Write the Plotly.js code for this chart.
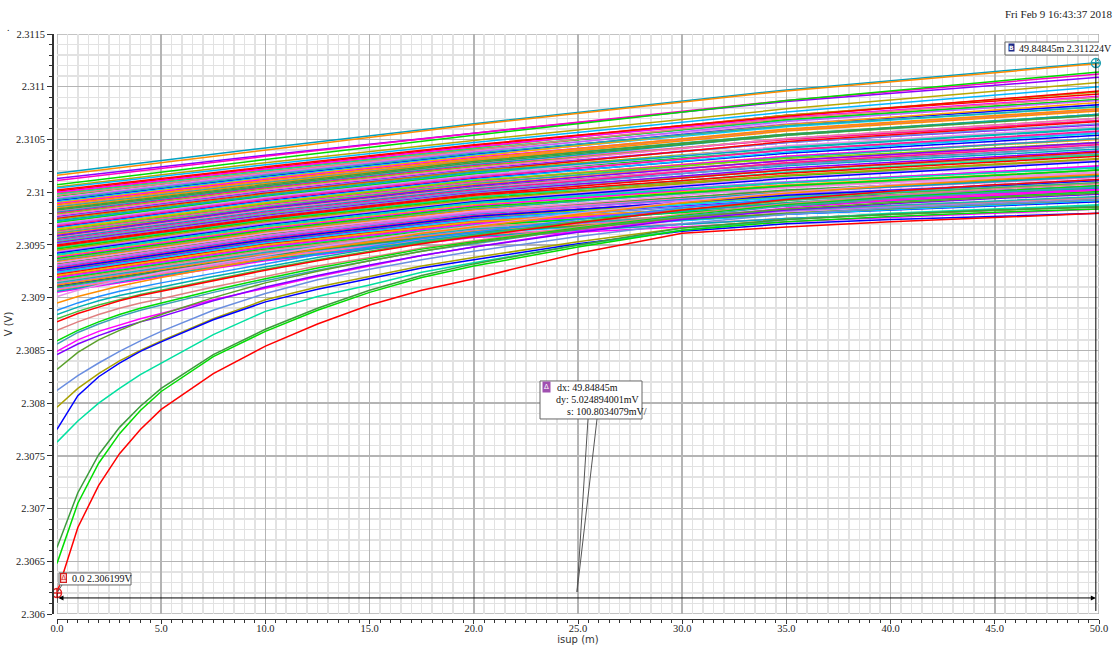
<!DOCTYPE html>
<html>
<head>
<meta charset="utf-8">
<script src="https://cdn.plot.ly/plotly-3.0.1.min.js"></script>
<style>html,body{margin:0;padding:0;background:#fff;}#chart{width:1113px;height:645px;}</style>
</head>
<body>
<div id="chart"></div>
<script>
// ---- data (V vs isup in mA, x-axis labelled "isup (m)") ----
const xBand = [0, 10, 20, 35, 50];
const topCurves = [
  [2.31018,2.31042,2.31065,2.31097,2.31123],
  [2.31016,2.31040,2.31064,2.31096,2.31122],
  [2.31013,2.31035,2.31056,2.31086,2.31109],
  [2.31011,2.31034,2.31056,2.31087,2.31112],
  [2.31007,2.31031,2.31054,2.31087,2.31114],
  [2.31005,2.31028,2.31049,2.31079,2.31104],
  [2.31004,2.31026,2.31047,2.31076,2.31100],
  [2.31002,2.31024,2.31045,2.31072,2.31096]
];
const topColors = ['#00a0c0','#ff8c00','#8c00ff','#ff00c8','#00dd00','#b8a800','#00b8ff','#ff0000'];
const bandCurves = [
  [2.31001,2.31023,2.31044,2.31073,2.31093],
  [2.30999,2.31021,2.31042,2.31073,2.31095],
  [2.30998,2.31020,2.31041,2.31068,2.31088],
  [2.30996,2.31018,2.31040,2.31069,2.31088],
  [2.30995,2.31018,2.31039,2.31065,2.31083],
  [2.30994,2.31017,2.31038,2.31067,2.31087],
  [2.30992,2.31015,2.31036,2.31064,2.31083],
  [2.30991,2.31014,2.31035,2.31062,2.31081],
  [2.30990,2.31013,2.31034,2.31064,2.31085],
  [2.30989,2.31012,2.31033,2.31059,2.31078],
  [2.30987,2.31010,2.31031,2.31059,2.31078],
  [2.30986,2.31009,2.31030,2.31055,2.31073],
  [2.30985,2.31008,2.31030,2.31058,2.31077],
  [2.30984,2.31007,2.31029,2.31055,2.31074],
  [2.30982,2.31006,2.31027,2.31050,2.31068],
  [2.30981,2.31005,2.31026,2.31054,2.31074],
  [2.30980,2.31004,2.31025,2.31050,2.31068],
  [2.30979,2.31003,2.31024,2.31051,2.31070],
  [2.30977,2.31001,2.31022,2.31047,2.31064],
  [2.30976,2.31000,2.31021,2.31047,2.31065],
  [2.30975,2.30999,2.31020,2.31048,2.31067],
  [2.30974,2.30998,2.31020,2.31043,2.31061],
  [2.30972,2.30996,2.31018,2.31043,2.31061],
  [2.30971,2.30996,2.31017,2.31040,2.31056],
  [2.30970,2.30995,2.31016,2.31044,2.31062],
  [2.30969,2.30994,2.31015,2.31040,2.31057],
  [2.30967,2.30992,2.31013,2.31037,2.31054],
  [2.30966,2.30991,2.31012,2.31038,2.31056],
  [2.30965,2.30990,2.31011,2.31034,2.31050],
  [2.30963,2.30988,2.31010,2.31034,2.31051],
  [2.30962,2.30987,2.31009,2.31030,2.31046],
  [2.30961,2.30986,2.31008,2.31033,2.31051],
  [2.30960,2.30985,2.31007,2.31030,2.31047],
  [2.30958,2.30984,2.31005,2.31027,2.31043],
  [2.30957,2.30983,2.31004,2.31028,2.31046],
  [2.30956,2.30982,2.31003,2.31025,2.31041],
  [2.30955,2.30981,2.31002,2.31028,2.31045],
  [2.30953,2.30979,2.31001,2.31021,2.31036],
  [2.30952,2.30978,2.31000,2.31023,2.31039],
  [2.30951,2.30977,2.30999,2.31021,2.31037],
  [2.30950,2.30976,2.30998,2.31021,2.31038],
  [2.30948,2.30974,2.30996,2.31016,2.31031],
  [2.30947,2.30974,2.30995,2.31019,2.31035],
  [2.30946,2.30973,2.30994,2.31015,2.31030],
  [2.30944,2.30971,2.30992,2.31014,2.31030],
  [2.30943,2.30970,2.30991,2.31010,2.31024],
  [2.30942,2.30969,2.30991,2.31013,2.31029],
  [2.30940,2.30967,2.30989,2.31009,2.31024],
  [2.30939,2.30966,2.30988,2.31007,2.31021],
  [2.30938,2.30965,2.30987,2.31009,2.31025],
  [2.30936,2.30963,2.30985,2.31005,2.31019],
  [2.30935,2.30962,2.30984,2.31006,2.31021],
  [2.30934,2.30962,2.30983,2.31001,2.31015],
  [2.30932,2.30960,2.30981,2.31002,2.31016],
  [2.30931,2.30959,2.30981,2.31000,2.31014],
  [2.30929,2.30957,2.30979,2.31000,2.31015],
  [2.30928,2.30956,2.30978,2.30996,2.31009],
  [2.30926,2.30954,2.30976,2.30996,2.31011],
  [2.30925,2.30953,2.30975,2.30993,2.31006],
  [2.30923,2.30951,2.30973,2.30992,2.31006],
  [2.30922,2.30951,2.30972,2.30989,2.31001],
  [2.30920,2.30949,2.30971,2.30990,2.31004],
  [2.30918,2.30947,2.30969,2.30987,2.31000],
  [2.30917,2.30946,2.30968,2.30987,2.31001],
  [2.30915,2.30944,2.30966,2.30982,2.30994],
  [2.30913,2.30942,2.30964,2.30982,2.30995],
  [2.30911,2.30940,2.30962,2.30979,2.30991],
  [2.30909,2.30939,2.30961,2.30979,2.30992],
  [2.30907,2.30937,2.30959,2.30975,2.30987],
  [2.30905,2.30935,2.30957,2.30972,2.30984]
];
const bandCurves2 = [
  [2.31000,2.31022,2.31043,2.31071,2.31091],
  [2.30997,2.31019,2.31040,2.31070,2.31090],
  [2.30993,2.31016,2.31037,2.31063,2.31081],
  [2.30988,2.31011,2.31032,2.31060,2.31079],
  [2.30983,2.31006,2.31028,2.31054,2.31073],
  [2.30978,2.31002,2.31023,2.31051,2.31070],
  [2.30973,2.30997,2.31019,2.31042,2.31060],
  [2.30968,2.30993,2.31014,2.31040,2.31058],
  [2.30964,2.30989,2.31011,2.31032,2.31047],
  [2.30959,2.30985,2.31006,2.31030,2.31047],
  [2.30954,2.30980,2.31001,2.31026,2.31043],
  [2.30949,2.30975,2.30997,2.31018,2.31034],
  [2.30945,2.30972,2.30993,2.31016,2.31032],
  [2.30941,2.30968,2.30990,2.31009,2.31023],
  [2.30937,2.30964,2.30986,2.31006,2.31021],
  [2.30933,2.30961,2.30982,2.31004,2.31019],
  [2.30930,2.30958,2.30980,2.30998,2.31011],
  [2.30927,2.30955,2.30977,2.30997,2.31011],
  [2.30924,2.30952,2.30974,2.30995,2.31009],
  [2.30921,2.30950,2.30972,2.30989,2.31002],
  [2.30919,2.30948,2.30970,2.30989,2.31003],
  [2.30916,2.30945,2.30967,2.30983,2.30995],
  [2.30914,2.30943,2.30965,2.30983,2.30996],
  [2.30912,2.30941,2.30963,2.30980,2.30993],
  [2.30910,2.30940,2.30962,2.30980,2.30993],
  [2.30908,2.30938,2.30960,2.30975,2.30987],
  [2.30906,2.30936,2.30958,2.30975,2.30987]
];
const xSteep = [0, 1, 2, 3, 4, 5, 7.5, 10, 12.5, 15, 17.5, 20, 25, 30, 35, 40, 45, 50];
const steepCurves = [
  [2.30901,2.30907,2.30912,2.30916,2.30920,2.30924,2.30932,2.30940,2.30948,2.30955,2.30962,2.30968,2.30980,2.30991,2.31000,2.31007,2.31013,2.31018],
  [2.30895,2.30901,2.30906,2.30911,2.30915,2.30919,2.30928,2.30937,2.30946,2.30953,2.30961,2.30967,2.30979,2.30990,2.30999,2.31006,2.31012,2.31017],
  [2.30888,2.30895,2.30901,2.30906,2.30910,2.30914,2.30923,2.30932,2.30941,2.30948,2.30956,2.30962,2.30974,2.30985,2.30994,2.31001,2.31007,2.31012],
  [2.30884,2.30891,2.30897,2.30902,2.30906,2.30910,2.30920,2.30929,2.30938,2.30946,2.30954,2.30960,2.30972,2.30982,2.30990,2.30996,2.31000,2.31004],
  [2.30880,2.30887,2.30893,2.30898,2.30903,2.30907,2.30917,2.30927,2.30936,2.30944,2.30952,2.30959,2.30972,2.30983,2.30992,2.30999,2.31004,2.31009],
  [2.30877,2.30885,2.30891,2.30897,2.30902,2.30906,2.30916,2.30926,2.30935,2.30943,2.30951,2.30958,2.30971,2.30983,2.30993,2.31001,2.31007,2.31012],
  [2.30869,2.30877,2.30884,2.30890,2.30895,2.30899,2.30910,2.30920,2.30930,2.30938,2.30947,2.30954,2.30967,2.30979,2.30989,2.30997,2.31003,2.31008],
  [2.30859,2.30869,2.30877,2.30884,2.30890,2.30895,2.30907,2.30918,2.30928,2.30937,2.30946,2.30953,2.30966,2.30978,2.30988,2.30995,2.31001,2.31006],
  [2.30856,2.30867,2.30875,2.30882,2.30888,2.30893,2.30905,2.30916,2.30926,2.30935,2.30944,2.30951,2.30965,2.30977,2.30987,2.30994,2.31000,2.31005],
  [2.30849,2.30860,2.30868,2.30874,2.30880,2.30885,2.30898,2.30909,2.30920,2.30930,2.30940,2.30948,2.30963,2.30975,2.30985,2.30992,2.30997,2.31002],
  [2.30846,2.30856,2.30864,2.30871,2.30877,2.30882,2.30897,2.30910,2.30921,2.30931,2.30940,2.30948,2.30962,2.30974,2.30983,2.30989,2.30994,2.30998],
  [2.30832,2.30848,2.30860,2.30869,2.30877,2.30884,2.30900,2.30914,2.30925,2.30935,2.30944,2.30952,2.30965,2.30976,2.30984,2.30990,2.30995,2.30999],
  [2.30812,2.30826,2.30838,2.30849,2.30859,2.30868,2.30888,2.30904,2.30917,2.30927,2.30936,2.30944,2.30958,2.30970,2.30979,2.30985,2.30989,2.30993],
  [2.30796,2.30814,2.30828,2.30840,2.30850,2.30859,2.30880,2.30898,2.30910,2.30920,2.30930,2.30938,2.30953,2.30966,2.30974,2.30979,2.30983,2.30986],
  [2.30775,2.30807,2.30825,2.30838,2.30849,2.30858,2.30879,2.30896,2.30908,2.30918,2.30928,2.30936,2.30951,2.30963,2.30970,2.30974,2.30977,2.30980],
  [2.30763,2.30783,2.30800,2.30814,2.30827,2.30838,2.30865,2.30887,2.30901,2.30912,2.30924,2.30933,2.30950,2.30964,2.30974,2.30980,2.30984,2.30988],
  [2.30663,2.30715,2.30751,2.30777,2.30797,2.30814,2.30846,2.30870,2.30890,2.30907,2.30921,2.30932,2.30950,2.30966,2.30974,2.30979,2.30983,2.30986],
  [2.30648,2.30705,2.30743,2.30771,2.30793,2.30811,2.30844,2.30868,2.30888,2.30905,2.30919,2.30930,2.30948,2.30964,2.30972,2.30977,2.30981,2.30984],
  [2.30620,2.30682,2.30722,2.30752,2.30775,2.30794,2.30828,2.30854,2.30875,2.30893,2.30907,2.30918,2.30942,2.30961,2.30967,2.30972,2.30976,2.30980]
];
const steepColors = ['#e890e8','#ff8c00','#1e90ff','#00b0b0','#40c040','#ff0000','#e08080','#00dd00','#3ca0b4','#ff00ff','#8000ff','#5aa02a','#6a8ee0','#a8a000','#0000ff','#00e0a0','#3c9c3c','#00dd00','#ff0000'];
const palette = ['#ff0000','#00dd00','#0000ff','#ff00ff','#ff8c00','#00a8c0','#8c00ff','#b0a000','#e890e8','#00c8ff','#e08080','#3ca03c','#ff1493','#6a8ee0','#00e0a0','#c060ff','#ffa500','#20b2aa','#ff66cc','#7cd400'];
const markerX = [0, 49.84845];
const markerY = [2.306199, 2.311224];
const markerColors = ['#e02020', '#20a0b0'];
const yTickVals = [2.306, 2.3065, 2.307, 2.3075, 2.308, 2.3085, 2.309, 2.3095, 2.31, 2.3105, 2.311, 2.3115];
const yTickText = ['2.306','2.3065','2.307','2.3075','2.308','2.3085','2.309','2.3095','2.31','2.3105','2.311','2.3115'];
const xTickVals = [0, 5, 10, 15, 20, 25, 30, 35, 40, 45, 50];
const xTickText = ['0.0','5.0','10.0','15.0','20.0','25.0','30.0','35.0','40.0','45.0','50.0'];
const deltaText = ['dx: 49.84845m', 'dy: 5.024894001mV', 's: 100.8034079mV/'];
const labelA = '0.0 2.306199V';
const labelB = '49.84845m 2.311224V';
const stamp = 'Fri Feb 9 16:43:37 2018';

// ---- traces ----
const traces = [];
bandCurves.forEach((ys, i) => {
  traces.push({x: xBand, y: ys, type: 'scatter', mode: 'lines', hoverinfo: 'skip',
    line: {color: palette[(i * 7) % palette.length], width: 1.5}});
});
bandCurves2.forEach((ys, i) => {
  traces.push({x: xBand, y: ys, type: 'scatter', mode: 'lines', hoverinfo: 'skip',
    line: {color: palette[(i * 7 + 3) % palette.length], width: 1.5}});
});
topCurves.forEach((ys, i) => {
  traces.push({x: xBand, y: ys, type: 'scatter', mode: 'lines', hoverinfo: 'skip',
    line: {color: topColors[i], width: 1.5}});
});
steepCurves.forEach((ys, i) => {
  traces.push({x: xSteep, y: ys, type: 'scatter', mode: 'lines', hoverinfo: 'skip',
    line: {color: steepColors[i], width: 1.5}});
});
traces.push({x: markerX, y: markerY, type: 'scatter', mode: 'markers', hoverinfo: 'skip', cliponaxis: false,
  marker: {symbol: 'circle-cross-open', size: 9, color: markerColors, line: {width: 1.5, color: markerColors}}});

// ---- helpers for decoration placement (pixel -> data) ----
const px2x = px => (px - 57) / 20.84;
const py2y = py => 2.3115 - (py - 34) * 9.482e-6;
const serif = 'Liberation Serif, Times New Roman, serif';
const txt = (px, py, text, extra) => Object.assign({xref: 'x', yref: 'y', x: px2x(px), y: py2y(py), xanchor: 'left', yanchor: 'middle',
  text: text, showarrow: false, font: {family: serif, size: 10, color: '#111'}}, extra || {});

const annotations = [
  {xref: 'paper', yref: 'paper', x: (1003 - 52) / 1047, y: (619 - 14) / 585, xanchor: 'left', yanchor: 'middle',
   text: stamp, showarrow: false, font: {family: serif, size: 11, color: '#222'}},
  {xref: 'paper', yref: 'paper', x: (8 - 52) / 1047, y: (619 - 27) / 585, xanchor: 'center', yanchor: 'middle',
   text: '.', showarrow: false, font: {family: serif, size: 10, color: '#222'}},
  txt(1017, 48.5, labelB, {font: {family: serif, size: 10, color: '#111'}}),
  txt(1011, 47.5, '<b>B</b>', {xanchor: 'center', bgcolor: '#1c2a88', borderpad: 0, font: {family: 'DejaVu Sans', size: 6, color: '#fff'}}),
  txt(70, 579, labelA),
  txt(63.5, 578, '\u0394', {xanchor: 'center', bordercolor: '#d02020', borderwidth: 1.2, borderpad: 0, bgcolor: 'rgba(255,200,200,0.6)',
    font: {family: 'DejaVu Sans', size: 7, color: '#d02020'}}),
  txt(555, 388, deltaText[0]),
  txt(554, 400, deltaText[1]),
  txt(565, 412, deltaText[2]),
  txt(546, 387.5, '\u0394', {xanchor: 'center', bgcolor: '#a050b0', borderpad: 1, font: {family: 'DejaVu Sans', size: 7, color: '#fff'}}),
  // double arrow between cursors
  {xref: 'x', yref: 'y', axref: 'x', ayref: 'y', x: markerX[1], y: py2y(598), ax: markerX[0], ay: py2y(598),
   text: '', showarrow: true, arrowhead: 2, arrowside: 'end+start', arrowsize: 1, arrowwidth: 1, arrowcolor: '#000'}
];

const box = (x0, y0, x1, y1) => ({type: 'rect', xref: 'x', yref: 'y', x0: px2x(x0), x1: px2x(x1), y0: py2y(y0), y1: py2y(y1),
  line: {color: '#666', width: 1}, fillcolor: '#ffffff', layer: 'above'});
const seg = (x0, y0, x1, y1, c) => ({type: 'line', xref: 'x', yref: 'y', x0: px2x(x0), x1: px2x(x1), y0: py2y(y0), y1: py2y(y1),
  line: {color: c || '#555', width: 1}});

const shapes = [
  {type: 'rect', xref: 'x', yref: 'y', x0: 0, x1: 50, y0: 2.306, y1: 2.3115, layer: 'below', line: {color: '#b0b0b0', width: 1.5}},
  {type: 'line', xref: 'x', yref: 'y', x0: markerX[1], x1: markerX[1], y0: markerY[1], y1: py2y(611), line: {color: '#000', width: 1}},
  {type: 'line', xref: 'x', yref: 'y', x0: markerX[0], x1: markerX[0], y0: markerY[0], y1: py2y(603), line: {color: '#000', width: 1}},
  seg(588, 419, 577, 592), seg(597, 419, 577, 592),
  seg(62, 585, 57.5, 592), seg(1102, 55, 1097, 61),
  box(1005, 42, 1125, 55),
  box(59, 573, 131, 585),
  box(540, 381, 642, 419)
];

const layout = {
  width: 1113, height: 645,
  margin: {l: 52, r: 14, t: 34, b: 26},
  paper_bgcolor: '#ffffff', plot_bgcolor: '#ffffff',
  showlegend: false,
  xaxis: {
    domain: [5 / 1047, 1], range: [0, 50], anchor: 'free', position: 0,
    tickmode: 'array', tickvals: xTickVals, ticktext: xTickText,
    ticks: 'outside', ticklen: 4, tickcolor: '#333', showline: true, linecolor: '#333', linewidth: 1,
    ticklabelstandoff: -5,
    showgrid: true, gridcolor: '#b4b4b4', gridwidth: 1.5, zeroline: false,
    minor: {dtick: 0.5, showgrid: true, gridcolor: '#e2e2e2', gridwidth: 1.5, ticks: 'outside', ticklen: 3, tickcolor: '#333'},
    tickfont: {family: serif, size: 10.5, color: '#222'},
    title: {text: 'isup (m)', font: {family: 'DejaVu Sans', size: 10, color: '#333'}, standoff: 0},
    automargin: false
  },
  yaxis: {
    domain: [5 / 585, 1], range: [2.306, 2.3115], anchor: 'free', position: 0,
    tickmode: 'array', tickvals: yTickVals, ticktext: yTickText,
    ticks: 'outside', ticklen: 5, tickcolor: '#333', showline: true, linecolor: '#333', linewidth: 1.5,
    showgrid: true, gridcolor: '#b4b4b4', gridwidth: 1.5, zeroline: false,
    minor: {dtick: 0.0001, showgrid: true, gridcolor: '#e2e2e2', gridwidth: 1.5, ticks: 'outside', ticklen: 3, tickcolor: '#333'},
    tickfont: {family: serif, size: 10.5, color: '#222'},
    title: {text: 'V (V)', font: {family: 'DejaVu Sans', size: 10, color: '#333'}, standoff: 0},
    automargin: false
  },
  annotations: annotations,
  shapes: shapes
};

Plotly.newPlot('chart', traces, layout, {staticPlot: true, displayModeBar: false});
</script>
</body>
</html>
